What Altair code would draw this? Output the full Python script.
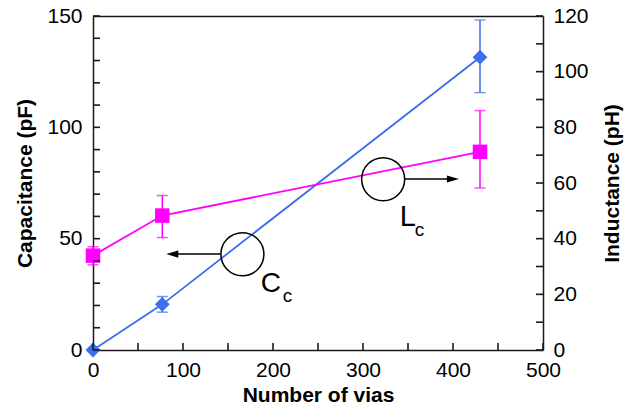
import altair as alt
import pandas as pd

# ---- data ----
vias = [0, 77, 430]
capacitance = [0, 20.5, 131.5]          # pF (left axis)
inductance = [33.9, 48.3, 71.2]         # pH (right axis)

cap_err_x = [77, 430]
cap_err_lo = [17.0, 115.6]
cap_err_hi = [24.0, 148.2]

ind_err_x = [0, 77, 430]
ind_err_lo = [30.6, 40.4, 58.2]
ind_err_hi = [37.1, 55.5, 86.0]

# tick values (inward ticks)
x_tick_vals = list(range(0, 501, 50))
x_label_vals = [0, 100, 200, 300, 400, 500]
yl_tick_vals = list(range(0, 151, 10))
yl_label_vals = [0, 50, 100, 150]
yr_tick_vals = list(range(0, 121, 10))
yr_label_vals = [0, 20, 40, 60, 80, 100, 120]

# annotation anchors (in data units: x = vias, y = capacitance scale)
circle_x = [166, 322.4]
circle_y = [43.0, 76.7]
arrow_from = [141.8, 345.4]
arrow_tip_center = [88.1, 399.9]
arrow_y = [43.1, 76.8]
label_text = ["C", "c", "L", "c"]
label_x = [186.3, 210.8, 340.9, 357.6]
label_y = [26.2, 21.7, 55.7, 51.2]
label_fs = [28, 19, 29, 19]

BLUE = "#3C6EEF"
MAG = "#FF00FF"
FONT = "Liberation Sans"
INK = "#1a1a1a"
W, H = 450, 334
TICK_PX = 7
X_MAX, YL_MAX, YR_MAX = 500, 150, 120

cap_df = pd.DataFrame({"x": vias, "y": capacitance})
ind_df = pd.DataFrame({"x": vias, "y": inductance})
cap_err = pd.DataFrame({"x": cap_err_x, "lo": cap_err_lo, "hi": cap_err_hi})
ind_err = pd.DataFrame({"x": ind_err_x, "lo": ind_err_lo, "hi": ind_err_hi})
cap_caps = pd.DataFrame({"x": cap_err_x * 2, "y": cap_err_lo + cap_err_hi})
ind_caps = pd.DataFrame({"x": ind_err_x * 2, "y": ind_err_lo + ind_err_hi})
circ_df = pd.DataFrame({"x": circle_x, "y": circle_y})
arrow_df = pd.DataFrame({"x": arrow_from, "x2": arrow_tip_center, "y": arrow_y})
head_l = pd.DataFrame({"x": [arrow_tip_center[0]], "y": [arrow_y[0]]})
head_r = pd.DataFrame({"x": [arrow_tip_center[1]], "y": [arrow_y[1]]})
lab_df = pd.DataFrame({"x": label_x, "y": label_y, "t": label_text, "fs": label_fs})

# tick segments expressed in data units (tick length converted from pixels)
dx = TICK_PX * X_MAX / W
dyl = TICK_PX * YL_MAX / H
dyr = TICK_PX * YR_MAX / H
xt_df = pd.DataFrame({"x": x_tick_vals, "y0": 0.0, "y1": dyl})
ylt_df = pd.DataFrame({"y": yl_tick_vals, "x0": 0.0, "x1": dx})
yrt_df = pd.DataFrame({"y": yr_tick_vals, "x0": float(X_MAX), "x1": X_MAX - dx})

xs = alt.Scale(domain=[0, X_MAX], nice=False)
ycap = alt.Scale(domain=[0, YL_MAX], nice=False)
yind = alt.Scale(domain=[0, YR_MAX], nice=False)


def X(f="x", axis=None):
    return alt.X(f, type="quantitative", scale=xs, axis=axis)


def Y(f="y", scale=ycap, axis=None):
    return alt.Y(f, type="quantitative", scale=scale, axis=axis)


lab_common = dict(labelFont=FONT, labelFontSize=21, labelColor="black", labelFlush=False,
                  titleFont=FONT, titleFontSize=21, titleFontWeight="bold",
                  titleColor="black", grid=False, ticks=False,
                  domain=True, domainColor=INK, domainWidth=1.5)

x_axis = alt.Axis(orient="bottom", values=x_label_vals, labelPadding=9,
                  title="Number of vias", titlePadding=4, **lab_common)
top_axis = alt.Axis(orient="top", labels=False, ticks=False, grid=False, title=None,
                    domain=True, domainColor=INK, domainWidth=1.5)
yl_axis = alt.Axis(orient="left", values=yl_label_vals, labelPadding=11,
                   title="Capacitance (pF)", titlePadding=11, **lab_common)
yr_axis = alt.Axis(orient="right", values=yr_label_vals, labelPadding=10,
                   title="Inductance (pH)", titleAngle=270, titlePadding=34, **lab_common)

# capacitance
cap_line = alt.Chart(cap_df).mark_line(color=BLUE, strokeWidth=1.8).encode(
    x=X(axis=x_axis), y=Y(axis=yl_axis))
cap_rule = alt.Chart(cap_err).mark_rule(color=BLUE, strokeWidth=1.5).encode(
    x=X(), y=Y("lo"), y2="hi")
cap_cap = alt.Chart(cap_caps).mark_tick(color=BLUE, orient="horizontal", size=11, thickness=1.5).encode(
    x=X(), y=Y())
cap_pts = alt.Chart(cap_df).mark_point(shape="diamond", filled=True, opacity=1, size=220, color=BLUE).encode(
    x=X(), y=Y())

# inductance
ind_line = alt.Chart(ind_df).mark_line(color=MAG, strokeWidth=1.8).encode(
    x=X(axis=top_axis), y=Y(scale=yind, axis=yr_axis))
ind_rule = alt.Chart(ind_err).mark_rule(color=MAG, strokeWidth=1.5).encode(
    x=X(), y=Y("lo", scale=yind), y2="hi")
ind_cap = alt.Chart(ind_caps).mark_tick(color=MAG, orient="horizontal", size=11, thickness=1.5).encode(
    x=X(), y=Y(scale=yind))
ind_pts = alt.Chart(ind_df).mark_point(shape="square", filled=True, opacity=1, size=210, color=MAG).encode(
    x=X(), y=Y(scale=yind))

# inward tick marks, positioned through the scales
xt = alt.Chart(xt_df).mark_rule(color=INK, strokeWidth=1.6).encode(
    x=X(), y=Y("y0"), y2="y1")
ylt = alt.Chart(ylt_df).mark_rule(color=INK, strokeWidth=1.6).encode(
    y=Y(), x=X("x0"), x2="x1")
yrt = alt.Chart(yrt_df).mark_rule(color=INK, strokeWidth=1.6).encode(
    y=Y(scale=yind), x=X("x0"), x2="x1")

# annotations
circles = alt.Chart(circ_df).mark_point(shape="circle", filled=False, size=1850, color="black",
                                        strokeWidth=1.5, opacity=1).encode(x=X(), y=Y())
arrows = alt.Chart(arrow_df).mark_rule(color="black", strokeWidth=1.5).encode(
    x=X(), x2="x2", y=Y())
hl = alt.Chart(head_l).mark_point(shape="M-1,0L1,-0.6L1,0.6Z", filled=True, size=144,
                                  color="black", opacity=1).encode(x=X(), y=Y())
hr = alt.Chart(head_r).mark_point(shape="M1,0L-1,-0.6L-1,0.6Z", filled=True, size=144,
                                  color="black", opacity=1).encode(x=X(), y=Y())
labels = alt.Chart(lab_df).mark_text(align="left", baseline="alphabetic", font=FONT,
                                     color="black").encode(
    x=X(), y=Y(), text="t:N", size=alt.Size("fs:Q", scale=None, legend=None))

chart = alt.layer(
    cap_line, ind_line, circles, arrows, hl, hr, labels,
    cap_rule, cap_cap, ind_rule, ind_cap, cap_pts, ind_pts, xt, ylt, yrt,
).resolve_scale(x="independent", y="independent").properties(
    width=W, height=H,
    autosize=alt.AutoSizeParams(type="none"),
    padding={"left": 93, "top": 16, "right": 632 - 93 - W, "bottom": 413 - 16 - H},
)

chart.save("out.html", embed_options={"renderer": "svg", "actions": False})
